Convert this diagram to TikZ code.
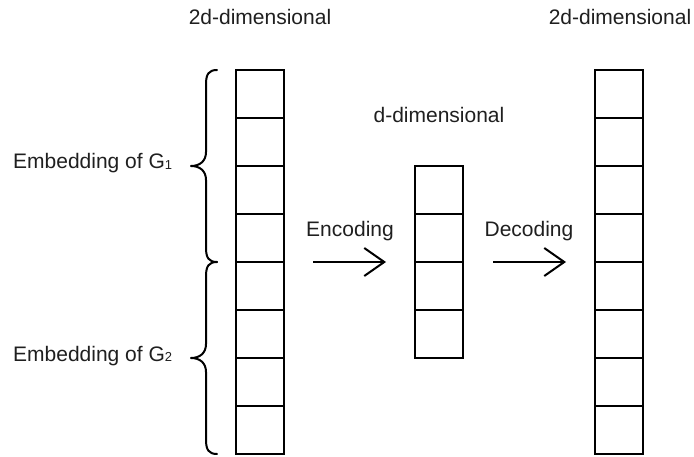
\documentclass[tikz,border=0pt]{standalone}
\usepackage{fontspec}
\setmainfont{Liberation Sans}
\usetikzlibrary{arrows.meta}
\begin{document}
\begin{tikzpicture}[x=1pt,y=-1pt,
  cell/.style={draw, line width=2pt, minimum width=48pt, minimum height=48pt, inner sep=0pt, outer sep=0pt, anchor=north west},
  lbl/.style={font=\fontsize{21}{25}\selectfont, inner sep=0pt, text=black!88},
  bracepath/.style={draw, line width=2pt, line cap=round, line join=round},
  flow/.style={line width=2pt, -{Straight Barb[length=20pt,width=28pt,line width=2pt]}}]
\useasboundingbox (0,0) rectangle (694,457);

% columns
\foreach \i in {1,...,8} \node[cell] (L\i) at (236,{70+48*(\i-1)}) {};
\foreach \i in {1,...,4} \node[cell] (M\i) at (415,{166+48*(\i-1)}) {};
\foreach \i in {1,...,8} \node[cell] (R\i) at (595,{70+48*(\i-1)}) {};

% labels
\node[lbl, anchor=base] (tl) at (260,25) {2d-dimensional};
\node[lbl, anchor=base] (tr) at (620,25) {2d-dimensional};
\node[lbl, anchor=base] (tm) at (439,123) {d-dimensional};
\node[lbl, anchor=base] (enc) at (350,237) {Encoding};
\node[lbl, anchor=base] (dec) at (529,237) {Decoding};
\node[lbl, anchor=base west] (e1) at (13,169) {Embedding of G\raisebox{-1pt}{\fontsize{13}{13}\selectfont 1}};
\node[lbl, anchor=base west] (e2) at (13,361) {Embedding of G\raisebox{-1pt}{\fontsize{13}{13}\selectfont 2}};

% braces
\draw[bracepath] (217,70) .. controls (209,70) and (206,74) .. (206,84) -- (206,152)
  .. controls (206,161) and (200,166) .. (191,166)
  .. controls (200,166) and (206,171) .. (206,180) -- (206,248)
  .. controls (206,258) and (209,262) .. (217,262);
\draw[bracepath] (217,262) .. controls (209,262) and (206,266) .. (206,276) -- (206,344)
  .. controls (206,353) and (200,358) .. (191,358)
  .. controls (200,358) and (206,363) .. (206,372) -- (206,440)
  .. controls (206,450) and (209,454) .. (217,454);

% arrows
\coordinate (a1s) at (313,262);
\coordinate (a1e) at (386,262);
\coordinate (a2s) at (493,262);
\coordinate (a2e) at (566,262);
\draw[flow] (a1s) -- (a1e);
\draw[flow] (a2s) -- (a2e);
\end{tikzpicture}
\end{document}
